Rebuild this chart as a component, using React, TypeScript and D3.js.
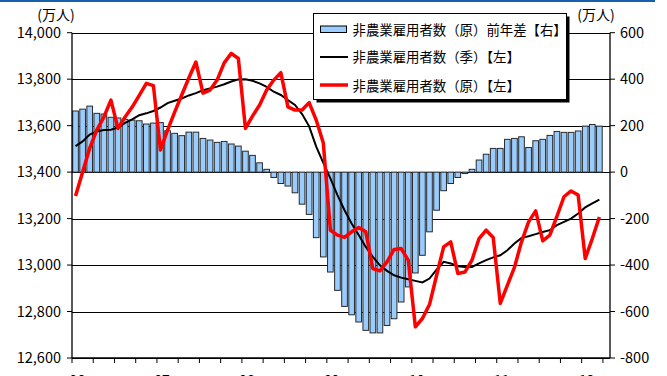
import React from "react";
import * as d3 from "d3";

// Year labels (every 12 months)
const yearLabels = ["06", "07", "08", "09", "10", "11", "12"];

// 非農業雇用者数(原)前年差 [右軸] (万人)
const yoyDiff = [
  263, 271, 284, 253, 250, 236, 233, 227, 224, 221,
  207, 211, 213, 178, 167, 157, 172, 172, 145, 138,
  128, 132, 121, 112, 90, 72, 40, 12, -23, -49,
  -60, -89, -138, -182, -282, -365, -430, -509, -578, -614,
  -645, -681, -692, -692, -660, -631, -559, -494, -434, -358,
  -257, -164, -80, -49, -23, -6, 12, 52, 77, 102,
  102, 141, 145, 152, 106, 135, 141, 158, 175, 171,
  171, 177, 198, 205, 198,
];

// 非農業雇用者数(季) [左軸]
const saPayroll = [
  13512, 13532, 13562, 13575, 13581, 13582, 13592, 13612, 13627, 13645,
  13653, 13663, 13678, 13697, 13707, 13717, 13730, 13740, 13752, 13760,
  13768, 13778, 13790, 13799, 13800, 13793, 13782, 13767, 13746, 13732,
  13710, 13689, 13650, 13597, 13510, 13440, 13373, 13301, 13236, 13179,
  13129, 13078, 13035, 12999, 12975, 12956, 12946, 12939, 12932, 12925,
  12942, 12980, 13014, 13007, 12995, 12992, 12992, 13007, 13021, 13033,
  13042, 13064, 13093, 13117, 13124, 13133, 13142, 13150, 13172, 13186,
  13200, 13222, 13248, 13265, 13282,
];

// 非農業雇用者数(原) [左軸]
const nsaPayroll = [
  13297, 13400, 13503, 13581, 13637, 13710, 13588, 13637, 13680, 13730,
  13782, 13772, 13495, 13581, 13658, 13732, 13805, 13874, 13740, 13753,
  13796, 13870, 13911, 13889, 13588, 13641, 13689, 13753, 13796, 13828,
  13681, 13667, 13667, 13699, 13624, 13525, 13150, 13129, 13119, 13143,
  13162, 13143, 12985, 12975, 13014, 13067, 13071, 13021, 12734, 12770,
  12830, 12955, 13078, 13100, 12964, 12970, 13021, 13114, 13150, 13119,
  12835, 12913, 12990, 13100, 13186, 13233, 13104, 13129, 13210, 13294,
  13319, 13301, 13028, 13114, 13207,
];

const leftTicks = [12600, 12800, 13000, 13200, 13400, 13600, 13800, 14000];
const rightTicks = [-800, -600, -400, -200, 0, 200, 400, 600];
const legendLabels = [
  "非農業雇用者数（原）前年差【右】",
  "非農業雇用者数（季）【左】",
  "非農業雇用者数（原）【左】",
];
const unitLabel = "(万人)";

const SLOTS = 76;
const FONT = "'Noto Sans CJK JP', 'Noto Sans', sans-serif";

export default function App() {
  const W = 667;
  const H = 376;
  const left = 72;
  const right = 610;
  const top = 32.7;
  const bottom = 358;

  const x = d3
    .scaleBand<number>()
    .domain(d3.range(SLOTS))
    .range([left, right])
    .paddingInner(0.2)
    .paddingOuter(0.1);
  const bw = x.bandwidth();
  const step = x.step();
  const cx = (i: number) => (x(i) as number) + bw / 2;

  const yL = d3.scaleLinear().domain([12600, 14000]).range([bottom, top]);
  const yR = d3.scaleLinear().domain([-800, 600]).range([bottom, top]);

  const line = d3
    .line<number>()
    .x((_, i) => cx(i))
    .y((d) => yL(d));

  const tickXs = d3.range(0, 26).map((k) => left + k * 3 * step);

  return (
    <svg
      width={W}
      height={H}
      style={{ position: "absolute", left: 0, top: 0, background: "#fff" }}
      fontFamily={FONT}
    >
      {/* top blue rule */}
      <line x1={0} x2={655} y1={1} y2={1} stroke="#1660ad" strokeWidth={2.2} />

      {/* gridlines */}
      {leftTicks.map((t) => (
        <line
          key={"g" + t}
          x1={left}
          x2={right}
          y1={Math.round(yL(t)) + 0.5}
          y2={Math.round(yL(t)) + 0.5}
          stroke="#000"
          strokeWidth={1}
        />
      ))}

      {/* bars */}
      {yoyDiff.map((v, i) => {
        const y0 = yR(0);
        const yv = yR(v);
        return (
          <rect
            key={"b" + i}
            x={x(i) as number}
            y={Math.min(y0, yv)}
            width={bw}
            height={Math.abs(yv - y0)}
            fill="#99ccff"
            stroke="#2a2a2a"
            strokeWidth={1}
          />
        );
      })}

      {/* axes frame */}
      <line x1={left} x2={left} y1={top} y2={bottom} stroke="#000" strokeWidth={1.3} />
      <line x1={right} x2={right} y1={top} y2={bottom} stroke="#000" strokeWidth={1.3} />
      <line x1={left} x2={right} y1={bottom} y2={bottom} stroke="#000" strokeWidth={1.3} />

      {/* lines */}
      <path d={line(saPayroll) || ""} fill="none" stroke="#000" strokeWidth={2} />
      <path
        d={line(nsaPayroll) || ""}
        fill="none"
        stroke="#ff0000"
        strokeWidth={3.5}
        strokeLinejoin="round"
      />

      {/* left axis */}
      {leftTicks.map((t) => (
        <g key={"l" + t}>
          <line x1={left - 5} x2={left} y1={yL(t)} y2={yL(t)} stroke="#000" strokeWidth={1} />
          <text
            x={61}
            y={yL(t)}
            dy="0.36em"
            textAnchor="end"
            fontSize={14.5}
            fill="#000"
          >
            {d3.format(",")(t)}
          </text>
        </g>
      ))}

      {/* right axis */}
      {rightTicks.map((t) => (
        <g key={"r" + t}>
          <line x1={right} x2={right + 5} y1={yR(t)} y2={yR(t)} stroke="#000" strokeWidth={1} />
          <text x={620} y={yR(t)} dy="0.36em" textAnchor="start" fontSize={14.5} fill="#000">
            {t}
          </text>
        </g>
      ))}

      {/* bottom ticks */}
      {tickXs.map((tx, k) => (
        <line key={"t" + k} x1={tx} x2={tx} y1={bottom} y2={bottom + 5} stroke="#000" strokeWidth={1} />
      ))}
      {yearLabels.map((lab, j) => (
        <text
          key={"x" + j}
          x={left + j * 12 * step + 5}
          y={385}
          textAnchor="middle"
          fontSize={14}
          fill="#000"
        >
          {lab}
        </text>
      ))}

      {/* unit labels */}
      <text x={56} y={20} textAnchor="middle" fontSize={14} fill="#000">
        {unitLabel}
      </text>
      <text x={596} y={20} textAnchor="middle" fontSize={14} fill="#000">
        {unitLabel}
      </text>

      {/* legend */}
      <rect x={316.5} y={16.5} width={253} height={86} fill="#000" />
      <rect x={313.5} y={13.5} width={253} height={86} fill="#fff" stroke="#000" strokeWidth={1} />
      <rect x={320.5} y={26} width={26} height={6.5} fill="#99ccff" stroke="#000" strokeWidth={1} />
      <line x1={320} x2={348} y1={57} y2={57} stroke="#000" strokeWidth={2} />
      <line x1={320} x2={348} y1={85} y2={85} stroke="#ff0000" strokeWidth={3.5} />
      {legendLabels.map((lab, i) => (
        <text
          key={"lg" + i}
          x={352.5}
          y={[30, 57.5, 86][i]}
          dy="0.36em"
          fontSize={13.4}
          fill="#000"
        >
          {lab}
        </text>
      ))}
    </svg>
  );
}
